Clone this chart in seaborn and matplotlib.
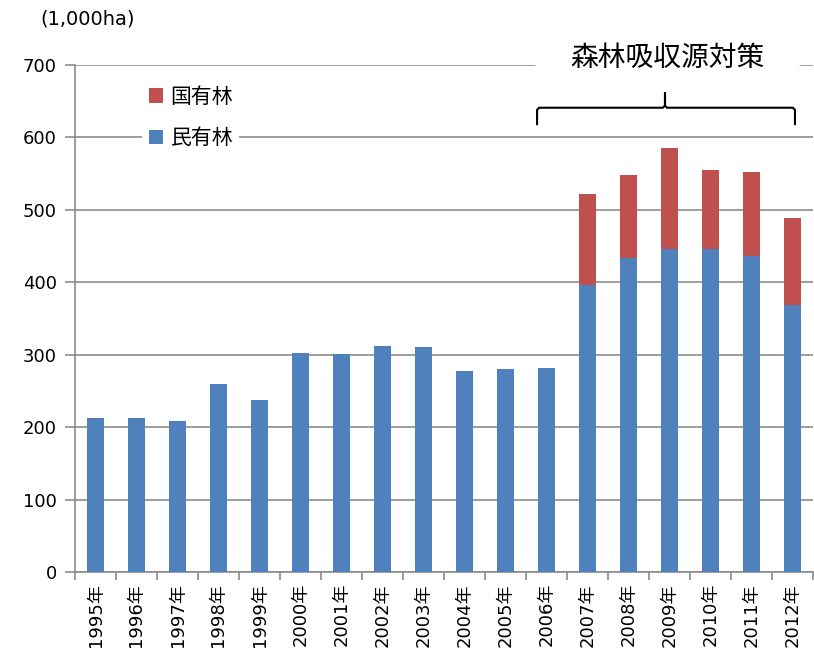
import numpy as np
import pandas as pd
import matplotlib
matplotlib.use("Agg")
import matplotlib.pyplot as plt
from matplotlib.patches import Patch
import seaborn as sns

years = ["1995年", "1996年", "1997年", "1998年", "1999年", "2000年", "2001年",
         "2002年", "2003年", "2004年", "2005年", "2006年", "2007年", "2008年",
         "2009年", "2010年", "2011年", "2012年"]
private_forest = [213, 213, 208, 260, 237, 303, 301, 312, 311, 277, 280, 281,
                  396, 434, 446, 446, 436, 368]
national_forest = [0, 0, 0, 0, 0, 0, 0, 0, 0, 0, 0, 0,
                   126, 114, 140, 109, 116, 121]
yticks = [0, 100, 200, 300, 400, 500, 600, 700]

BLUE = "#4F81BD"
RED = "#C0504D"
GRID = "#8C8C8C"

sns.set_style("white")
plt.rcParams["font.family"] = ["DejaVu Sans", "Noto Sans CJK JP"]
plt.rcParams["text.color"] = "black"
plt.rcParams["xtick.labelcolor"] = "black"
plt.rcParams["ytick.labelcolor"] = "black"

df = pd.DataFrame({
    "year": years,
    "private": private_forest,
    "national": national_forest,
})
df["total"] = df["private"] + df["national"]

fig = plt.figure(figsize=(8.14, 6.59), dpi=100)
ax = fig.add_axes([75 / 814, 87 / 659, 738 / 814, 507 / 659])

# stacked bars: total in red, private share over it in blue
sns.barplot(data=df, x="year", y="total", color=RED, saturation=1,
            width=0.42, ax=ax, zorder=2, linewidth=0)
sns.barplot(data=df, x="year", y="private", color=BLUE, saturation=1,
            width=0.42, ax=ax, zorder=3, linewidth=0)

ax.set_xlim(-0.5, len(years) - 0.5)
ax.set_ylim(0, 700)
ax.set_yticks(yticks)
ax.set_xlabel("")
ax.set_ylabel("")

ax.set_axisbelow(True)
ax.yaxis.grid(True, color=GRID, linewidth=1.2)
ax.xaxis.grid(False)

for side in ["top", "right"]:
    ax.spines[side].set_visible(False)
for side in ["left", "bottom"]:
    ax.spines[side].set_color(GRID)
    ax.spines[side].set_linewidth(1.2)

ax.tick_params(axis="y", which="major", length=7, color=GRID, width=1.2,
               labelsize=13, pad=6, left=True, labelcolor="black")
ax.tick_params(axis="x", which="major", length=0, labelsize=13, pad=8,
               labelrotation=90, labelcolor="black")
ax.set_xticks(np.arange(-0.5, len(years)), minor=True)
ax.tick_params(axis="x", which="minor", length=6, color=GRID, width=1.2,
               bottom=True)

# unit label
fig.text(40 / 814, 1 - 19 / 659, "(1,000ha)", fontsize=14, va="center",
         ha="left", color="black")

# legend
handles = [Patch(facecolor=RED, edgecolor="none", label="国有林"),
           Patch(facecolor=BLUE, edgecolor="none", label="民有林")]
leg = fig.legend(handles=handles, loc="upper left",
                 bbox_to_anchor=(132 / 814, 1 - 69 / 659),
                 prop={"family": ["Noto Sans CJK JP"], "size": 15},
                 frameon=True, facecolor="white", edgecolor="none",
                 framealpha=1, fancybox=False, handlelength=0.7,
                 handleheight=0.7, handletextpad=0.35, labelspacing=0.95,
                 borderpad=0.3)
for t in leg.get_texts():
    t.set_color("black")

# brace over the forest sink period
xl, xm, xr = 10.77, 13.89, 17.06
yb, yh, yt = 618, 641, 661
dx = 0.05
brace_x = [xl, xl, xl + dx, xm - dx, xm, xm, xm, xm + dx, xr - dx, xr, xr]
brace_y = [yb, yh - 3, yh, yh, yh + 3, yt, yh + 3, yh, yh, yh - 3, yb]
ax.plot(brace_x, brace_y, color="black", linewidth=1.5, clip_on=False,
        zorder=5, solid_joinstyle="round")

# blank out the top gridline behind the caption
ax.plot([10.79, 17.11], [700, 700], color="white", linewidth=4,
        clip_on=False, zorder=4)
ax.text(13.94, 710, "森林吸収源対策", fontsize=20, ha="center", va="center",
        family=["Noto Sans CJK JP"], fontweight="normal", color="black",
        zorder=6, clip_on=False)

fig.savefig("out.png", dpi=100)
